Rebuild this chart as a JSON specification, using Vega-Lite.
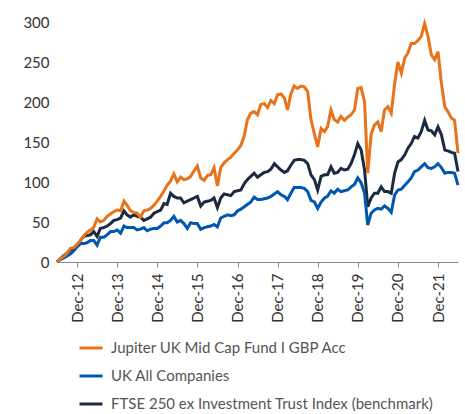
{
  "$schema": "https://vega.github.io/schema/vega-lite/v6.json",
  "width": 401,
  "height": 240,
  "autosize": {"type": "none"},
  "padding": {"left": 57, "top": 22, "right": 7, "bottom": 152},
  "background": "white",
  "config": {"view": {"stroke": null}, "font": "Lato"},
  "data": {"values": [
    {"d":"2012-06-01","j":0,"u":0,"f":0},
    {"d":"2012-07-01","j":4,"u":3,"f":4},
    {"d":"2012-08-01","j":7,"u":5,"f":8},
    {"d":"2012-09-01","j":11,"u":7.5,"f":11},
    {"d":"2012-10-01","j":17,"u":10,"f":15},
    {"d":"2012-11-01","j":18,"u":14,"f":17},
    {"d":"2012-12-01","j":22,"u":19,"f":20},
    {"d":"2013-01-01","j":27,"u":23,"f":27},
    {"d":"2013-02-01","j":33,"u":23,"f":32},
    {"d":"2013-03-01","j":37,"u":24,"f":33},
    {"d":"2013-04-01","j":40,"u":27,"f":34},
    {"d":"2013-05-01","j":43,"u":27,"f":38},
    {"d":"2013-06-01","j":54,"u":21,"f":32},
    {"d":"2013-07-01","j":50,"u":31,"f":42},
    {"d":"2013-08-01","j":52,"u":31,"f":43},
    {"d":"2013-09-01","j":57,"u":34,"f":45},
    {"d":"2013-10-01","j":60,"u":38,"f":48},
    {"d":"2013-11-01","j":63,"u":38,"f":52},
    {"d":"2013-12-01","j":65,"u":40,"f":53},
    {"d":"2014-01-01","j":64,"u":36,"f":55},
    {"d":"2014-02-01","j":76,"u":45,"f":64},
    {"d":"2014-03-01","j":71,"u":43,"f":59},
    {"d":"2014-04-01","j":64,"u":43,"f":56},
    {"d":"2014-05-01","j":62,"u":43,"f":59},
    {"d":"2014-06-01","j":61,"u":40,"f":57},
    {"d":"2014-07-01","j":56,"u":41,"f":56},
    {"d":"2014-08-01","j":64,"u":43,"f":52},
    {"d":"2014-09-01","j":65,"u":39,"f":54},
    {"d":"2014-10-01","j":67,"u":41,"f":56},
    {"d":"2014-11-01","j":71,"u":42,"f":61},
    {"d":"2014-12-01","j":76,"u":42,"f":63},
    {"d":"2015-01-01","j":82,"u":45,"f":65},
    {"d":"2015-02-01","j":89,"u":49,"f":73},
    {"d":"2015-03-01","j":96,"u":49,"f":72},
    {"d":"2015-04-01","j":101,"u":52,"f":86},
    {"d":"2015-05-01","j":110,"u":57,"f":82},
    {"d":"2015-06-01","j":100,"u":50,"f":80},
    {"d":"2015-07-01","j":106,"u":52,"f":80},
    {"d":"2015-08-01","j":103,"u":48,"f":74},
    {"d":"2015-09-01","j":104,"u":42,"f":76},
    {"d":"2015-10-01","j":107,"u":49,"f":78},
    {"d":"2015-11-01","j":114,"u":48,"f":80},
    {"d":"2015-12-01","j":120,"u":48,"f":82},
    {"d":"2016-01-01","j":105,"u":41,"f":70},
    {"d":"2016-02-01","j":102,"u":43,"f":75},
    {"d":"2016-03-01","j":108,"u":44,"f":76},
    {"d":"2016-04-01","j":109,"u":45,"f":77},
    {"d":"2016-05-01","j":118,"u":47,"f":80},
    {"d":"2016-06-01","j":95,"u":44,"f":68},
    {"d":"2016-07-01","j":118,"u":55,"f":80},
    {"d":"2016-08-01","j":124,"u":57,"f":85},
    {"d":"2016-09-01","j":128,"u":59,"f":84},
    {"d":"2016-10-01","j":131,"u":58,"f":83},
    {"d":"2016-11-01","j":136,"u":59,"f":88},
    {"d":"2016-12-01","j":140,"u":64,"f":89},
    {"d":"2017-01-01","j":146,"u":66,"f":90},
    {"d":"2017-02-01","j":158,"u":69,"f":98},
    {"d":"2017-03-01","j":178,"u":72,"f":103},
    {"d":"2017-04-01","j":186,"u":75,"f":107},
    {"d":"2017-05-01","j":188,"u":81,"f":111},
    {"d":"2017-06-01","j":184,"u":78,"f":106},
    {"d":"2017-07-01","j":197,"u":78,"f":109},
    {"d":"2017-08-01","j":198,"u":79,"f":112},
    {"d":"2017-09-01","j":193,"u":80,"f":113},
    {"d":"2017-10-01","j":202,"u":82,"f":116},
    {"d":"2017-11-01","j":198,"u":85,"f":123},
    {"d":"2017-12-01","j":209,"u":88,"f":119},
    {"d":"2018-01-01","j":210,"u":84,"f":115},
    {"d":"2018-02-01","j":205,"u":82,"f":112},
    {"d":"2018-03-01","j":190,"u":78,"f":114},
    {"d":"2018-04-01","j":210,"u":86,"f":121},
    {"d":"2018-05-01","j":220,"u":93,"f":127},
    {"d":"2018-06-01","j":217,"u":93,"f":128},
    {"d":"2018-07-01","j":220,"u":93,"f":128},
    {"d":"2018-08-01","j":219,"u":92,"f":127},
    {"d":"2018-09-01","j":213,"u":88,"f":123},
    {"d":"2018-10-01","j":178,"u":77,"f":109},
    {"d":"2018-11-01","j":160,"u":75,"f":103},
    {"d":"2018-12-01","j":144,"u":67,"f":90},
    {"d":"2019-01-01","j":167,"u":75,"f":107},
    {"d":"2019-02-01","j":163,"u":80,"f":109},
    {"d":"2019-03-01","j":169,"u":82,"f":109},
    {"d":"2019-04-01","j":190,"u":89,"f":119},
    {"d":"2019-05-01","j":178,"u":86,"f":111},
    {"d":"2019-06-01","j":175,"u":91,"f":112},
    {"d":"2019-07-01","j":182,"u":88,"f":117},
    {"d":"2019-08-01","j":177,"u":89,"f":115},
    {"d":"2019-09-01","j":181,"u":90,"f":116},
    {"d":"2019-10-01","j":184,"u":94,"f":123},
    {"d":"2019-11-01","j":190,"u":97,"f":134},
    {"d":"2019-12-01","j":217,"u":105,"f":148},
    {"d":"2020-01-01","j":218,"u":99,"f":140},
    {"d":"2020-02-01","j":200,"u":86,"f":115},
    {"d":"2020-03-01","j":111,"u":46,"f":69},
    {"d":"2020-04-01","j":160,"u":61,"f":80},
    {"d":"2020-05-01","j":171,"u":65,"f":86},
    {"d":"2020-06-01","j":175,"u":67,"f":86},
    {"d":"2020-07-01","j":163,"u":66,"f":94},
    {"d":"2020-08-01","j":190,"u":70,"f":88},
    {"d":"2020-09-01","j":194,"u":67,"f":88},
    {"d":"2020-10-01","j":186,"u":62,"f":86},
    {"d":"2020-11-01","j":223,"u":84,"f":111},
    {"d":"2020-12-01","j":250,"u":90,"f":125},
    {"d":"2021-01-01","j":236,"u":91,"f":128},
    {"d":"2021-02-01","j":255,"u":96,"f":134},
    {"d":"2021-03-01","j":261,"u":100,"f":142},
    {"d":"2021-04-01","j":273,"u":105,"f":148},
    {"d":"2021-05-01","j":273,"u":113,"f":157},
    {"d":"2021-06-01","j":277,"u":115,"f":155},
    {"d":"2021-07-01","j":282,"u":119,"f":163},
    {"d":"2021-08-01","j":298,"u":123,"f":177},
    {"d":"2021-09-01","j":282,"u":118,"f":165},
    {"d":"2021-10-01","j":259,"u":117,"f":164},
    {"d":"2021-11-01","j":253,"u":119,"f":159},
    {"d":"2021-12-01","j":263,"u":123,"f":169},
    {"d":"2022-01-01","j":223,"u":118,"f":159},
    {"d":"2022-02-01","j":194,"u":111,"f":140},
    {"d":"2022-03-01","j":188,"u":112,"f":139},
    {"d":"2022-04-01","j":180,"u":112,"f":137},
    {"d":"2022-05-01","j":177,"u":111,"f":136},
    {"d":"2022-06-01","j":136,"u":96,"f":113}
  ]},
  "transform": [{"fold": ["f", "u", "j"], "as": ["series", "value"]}],
  "mark": {"type": "line", "strokeWidth": 3, "clip": false},
  "encoding": {
    "x": {
      "field": "d", "type": "temporal",
      "scale": {"type": "utc", "domain": ["2012-06-01", "2022-06-01"]},
      "axis": {
        "title": null, "grid": false,
        "values": ["2012-12-01","2013-12-01","2014-12-01","2015-12-01","2016-12-01","2017-12-01","2018-12-01","2019-12-01","2020-12-01","2021-12-01"],
        "labelExpr": "utcFormat(datum.value, '%b-%y')",
        "labelAngle": 270, "labelAlign": "right", "labelBaseline": "middle",
        "labelPadding": 6, "labelFontSize": 15, "labelColor": "#333333",
        "domainColor": "#888888", "tickColor": "#888888", "tickSize": 5,
        "labelFlush": false, "labelOverlap": false
      }
    },
    "y": {
      "field": "value", "type": "quantitative",
      "scale": {"domain": [0, 300], "nice": false},
      "axis": {
        "title": null, "grid": false, "domain": false, "ticks": false,
        "values": [0, 50, 100, 150, 200, 250, 300],
        "labelPadding": 8, "labelFontSize": 15, "labelColor": "#333333"
      }
    },
    "color": {
      "field": "series", "type": "nominal",
      "scale": {"domain": ["j", "u", "f"], "range": ["#E8731A", "#0057B0", "#1B2A3F"]},
      "legend": {
        "title": null, "orient": "none", "legendX": 21, "legendY": 313,
        "direction": "vertical",
        "labelExpr": "datum.value == 'j' ? 'Jupiter UK Mid Cap Fund I GBP Acc' : datum.value == 'u' ? 'UK All Companies' : 'FTSE 250 ex Investment Trust Index (benchmark)'",
        "symbolType": "stroke", "symbolSize": 529, "symbolStrokeWidth": 3,
        "labelFontSize": 15, "labelColor": "#555555", "labelOffset": 7,
        "rowPadding": 7, "labelLimit": 400
      }
    }
  }
}
